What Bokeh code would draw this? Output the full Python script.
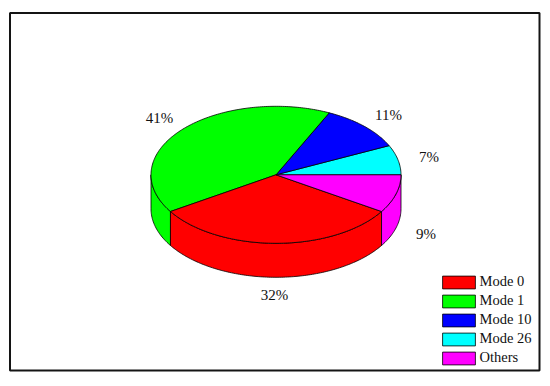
import numpy as np
from bokeh.plotting import figure
from bokeh.models import Range1d, Legend, LegendItem
from bokeh.core.properties import value
from bokeh.embed import file_html
from bokeh.resources import INLINE

# data (counter-clockwise from 3 o'clock)
categories = ["Mode 26", "Mode 10", "Mode 1", "Mode 0", "Others"]
shares = [7, 11, 41, 32, 9]
colors = ["#00FFFF", "#0000FF", "#00FF00", "#FF0000", "#FF00FF"]
legend_order = ["Mode 0", "Mode 1", "Mode 10", "Mode 26", "Others"]

# layout (page pixels)
label_x = [428.5, 388, 159, 274, 425.5]
label_y = [156, 114, 117, 294, 233]
CX, CY, RX, RY, DEPTH = 275.5, 174.3, 125, 68.5, 34
FONT = "Liberation Serif"

p = figure(width=550, height=386, output_backend="svg", toolbar_location=None,
           x_range=Range1d(0, 550), y_range=Range1d(386, 0),
           min_border=0, outline_line_color=None)
p.xaxis.visible = False
p.yaxis.visible = False
p.grid.visible = False

# outer frame
p.quad(left=[9.5], right=[539], top=[12.5], bottom=[370], fill_color="white",
       line_color="#141414", line_width=2)

edges = np.cumsum([0] + shares) / sum(shares) * 2 * np.pi


def arc(a, b, dy=0.0):
    t = np.linspace(a, b, max(int(abs(b - a) * 60), 2))
    return CX + RX * np.cos(t), CY - RY * np.sin(t) + dy


# side walls: only the front half (angles between pi and 2*pi) is visible
for i, c in enumerate(colors):
    a, b = max(edges[i], np.pi), min(edges[i + 1], 2 * np.pi)
    if b <= a:
        continue
    x0, y0 = arc(a, b)
    x1, y1 = arc(b, a, DEPTH)
    p.patch(np.r_[x0, x1], np.r_[y0, y1], fill_color=c, line_color="black", line_width=0.8)

# top face
renderers = {}
for i, (name, c) in enumerate(zip(categories, colors)):
    x0, y0 = arc(edges[i], edges[i + 1])
    renderers[name] = p.patch(np.r_[CX, x0], np.r_[CY, y0], fill_color=c,
                              line_color="black", line_width=0.8)

p.text(x=label_x, y=label_y, text=[f"{s}%" for s in shares],
       text_font=value(FONT), text_font_size="15px", text_color="#111111",
       text_align="center", text_baseline="middle")

legend = Legend(items=[LegendItem(label=n, renderers=[renderers[n]]) for n in legend_order],
                location=(437.6, 20), orientation="vertical",
                glyph_width=41, glyph_height=16, spacing=2, padding=0, margin=0,
                label_standoff=1, label_height=13, label_width=55,
                label_text_font=FONT, label_text_font_size="14.5px",
                label_text_color="#111111", label_text_baseline="middle",
                border_line_color=None, background_fill_alpha=0)
p.add_layout(legend, "center")

open("out.html", "w").write(file_html(p, INLINE))
